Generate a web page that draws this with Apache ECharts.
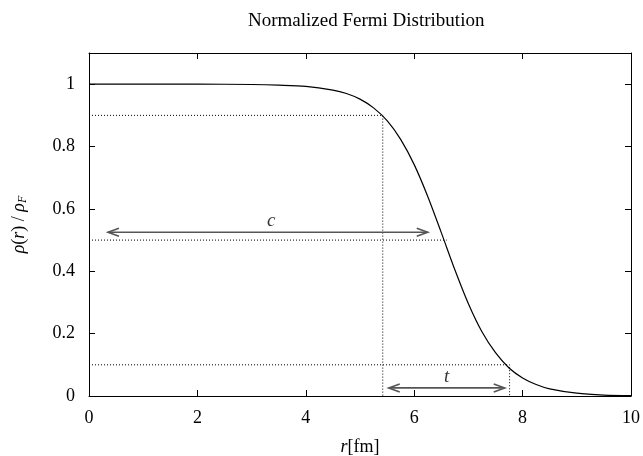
<!DOCTYPE html>
<html>
<head>
<meta charset="utf-8">
<script src="https://cdn.jsdelivr.net/npm/echarts@6/dist/echarts.min.js"></script>
<style>
html, body { margin: 0; padding: 0; background: #fff; }
#main { width: 643px; height: 456px; }
</style>
</head>
<body>
<div id="main"></div>
<script>
// curve
var rValues = [0, 1, 2, 3, 3.5, 4, 4.5, 4.75, 5, 5.25, 5.5, 5.75, 6, 6.25, 6.5, 6.75, 7, 7.25, 7.5, 7.75, 8, 8.25, 8.5, 9, 9.5, 10];
var rhoValues = [1, 1, 1, 0.999, 0.997, 0.993, 0.981, 0.970, 0.952, 0.924, 0.883, 0.823, 0.742, 0.640, 0.524, 0.405, 0.296, 0.206, 0.139, 0.090, 0.058, 0.037, 0.023, 0.009, 0.003, 0.001];

// dotted guide lines
var guide90 = [[0, 0.9], [5.42, 0.9], [5.42, 0]];
var guide50 = [[0, 0.5], [6.6, 0.5]];
var guide10 = [[0, 0.1], [7.76, 0.1], [7.76, 0]];

// arrows and their labels
var arrowC = [0.35, 0.525, 6.25, 0.525];
var arrowT = [5.53, 0.026, 7.67, 0.026];
var labels = [['c', 3.36, 0.561], ['t', 6.6, 0.062]];

var yTicks = [0, 0.2, 0.4, 0.6, 0.8, 1];

var font = '"Liberation Serif", "DejaVu Serif", serif';

var curve = rValues.map(function (r, i) { return [r, rhoValues[i]]; });

function dotted(data) {
    return {
        type: 'line',
        data: data,
        symbol: 'none',
        silent: true,
        lineStyle: { color: '#000', width: 1, type: [1, 2] },
        z: 1
    };
}

function renderArrow(params, api) {
    var p1 = api.coord([api.value(0), api.value(1)]);
    var p2 = api.coord([api.value(2), api.value(3)]);
    var hl = 11, hw = 4;
    var st = { stroke: '#555', lineWidth: 1.6, fill: null };
    return {
        type: 'group',
        children: [
            { type: 'line', shape: { x1: p1[0], y1: p1[1], x2: p2[0], y2: p2[1] }, style: st },
            { type: 'polyline', shape: { points: [[p1[0] + hl, p1[1] - hw], [p1[0], p1[1]], [p1[0] + hl, p1[1] + hw]] }, style: st },
            { type: 'polyline', shape: { points: [[p2[0] - hl, p2[1] - hw], [p2[0], p2[1]], [p2[0] - hl, p2[1] + hw]] }, style: st }
        ]
    };
}

var myChart = echarts.init(document.getElementById('main'));
var axisLine = { show: true, onZero: false, lineStyle: { color: '#000', width: 1 } };
var tick = { show: true, inside: true, length: 6, lineStyle: { color: '#000' } };

var option = {
    backgroundColor: '#fff',
    animation: false,
    title: {
        text: 'Normalized Fermi Distribution',
        left: 243,
        top: 7,
        textStyle: { fontFamily: font, fontSize: 19, fontWeight: 'normal', color: '#000' }
    },
    grid: { left: 89, right: 12, top: 53, bottom: 60, outerBoundsMode: 'none' },
    xAxis: [
        {
            type: 'value', min: 0, max: 10, interval: 2,
            axisLine: axisLine, axisTick: tick, splitLine: { show: false },
            axisLabel: { color: '#000', fontFamily: font, fontSize: 18, margin: 13 },
            name: '{i|r}[fm]',
            nameLocation: 'middle',
            nameGap: 42,
            nameTextStyle: {
                color: '#000', fontFamily: font, fontSize: 18,
                rich: { i: { fontStyle: 'italic', fontFamily: font, fontSize: 18, color: '#000' } }
            }
        },
        {
            type: 'value', position: 'top', min: 0, max: 10, interval: 2,
            axisLine: axisLine, axisTick: tick, splitLine: { show: false },
            axisLabel: { show: false }
        }
    ],
    yAxis: [
        {
            type: 'value', min: 0, max: 1.1, interval: 0.2,
            axisLine: axisLine, axisTick: tick, splitLine: { show: false },
            axisLabel: {
                color: '#000', fontFamily: font, fontSize: 18, margin: 14,
                formatter: function (v) {
                    var r = Math.round(v * 10) / 10;
                    return yTicks.indexOf(r) >= 0 ? String(r) : '';
                }
            },
            name: '{i|ρ}({i|r}) / {i|ρ}{s|F}',
            nameLocation: 'middle',
            nameGap: 60,
            nameRotate: 90,
            nameTextStyle: {
                color: '#000', fontFamily: font, fontSize: 18,
                rich: {
                    i: { fontStyle: 'italic', fontFamily: font, fontSize: 18, color: '#000' },
                    s: { fontStyle: 'italic', fontFamily: font, fontSize: 12, color: '#000', verticalAlign: 'bottom', padding: [7, 0, 0, 0] }
                }
            }
        },
        {
            type: 'value', position: 'right', min: 0, max: 1.1, interval: 0.2,
            axisLine: axisLine, axisTick: tick, splitLine: { show: false },
            axisLabel: { show: false }
        }
    ],
    series: [
        dotted(guide90),
        dotted(guide50),
        dotted(guide10),
        {
            type: 'line',
            data: curve,
            smooth: 0.3,
            symbol: 'none',
            lineStyle: { color: '#000', width: 1.2 },
            z: 3
        },
        {
            type: 'custom',
            renderItem: renderArrow,
            data: [arrowC, arrowT],
            silent: true,
            z: 4
        },
        {
            type: 'scatter',
            symbolSize: 0,
            data: labels.map(function (l) { return { name: l[0], value: [l[1], l[2]] }; }),
            label: {
                show: true, position: 'inside', formatter: '{b}',
                fontFamily: font, fontStyle: 'italic', fontSize: 19, color: '#000'
            },
            silent: true,
            z: 5
        }
    ]
};

myChart.setOption(option);
</script>
</body>
</html>
